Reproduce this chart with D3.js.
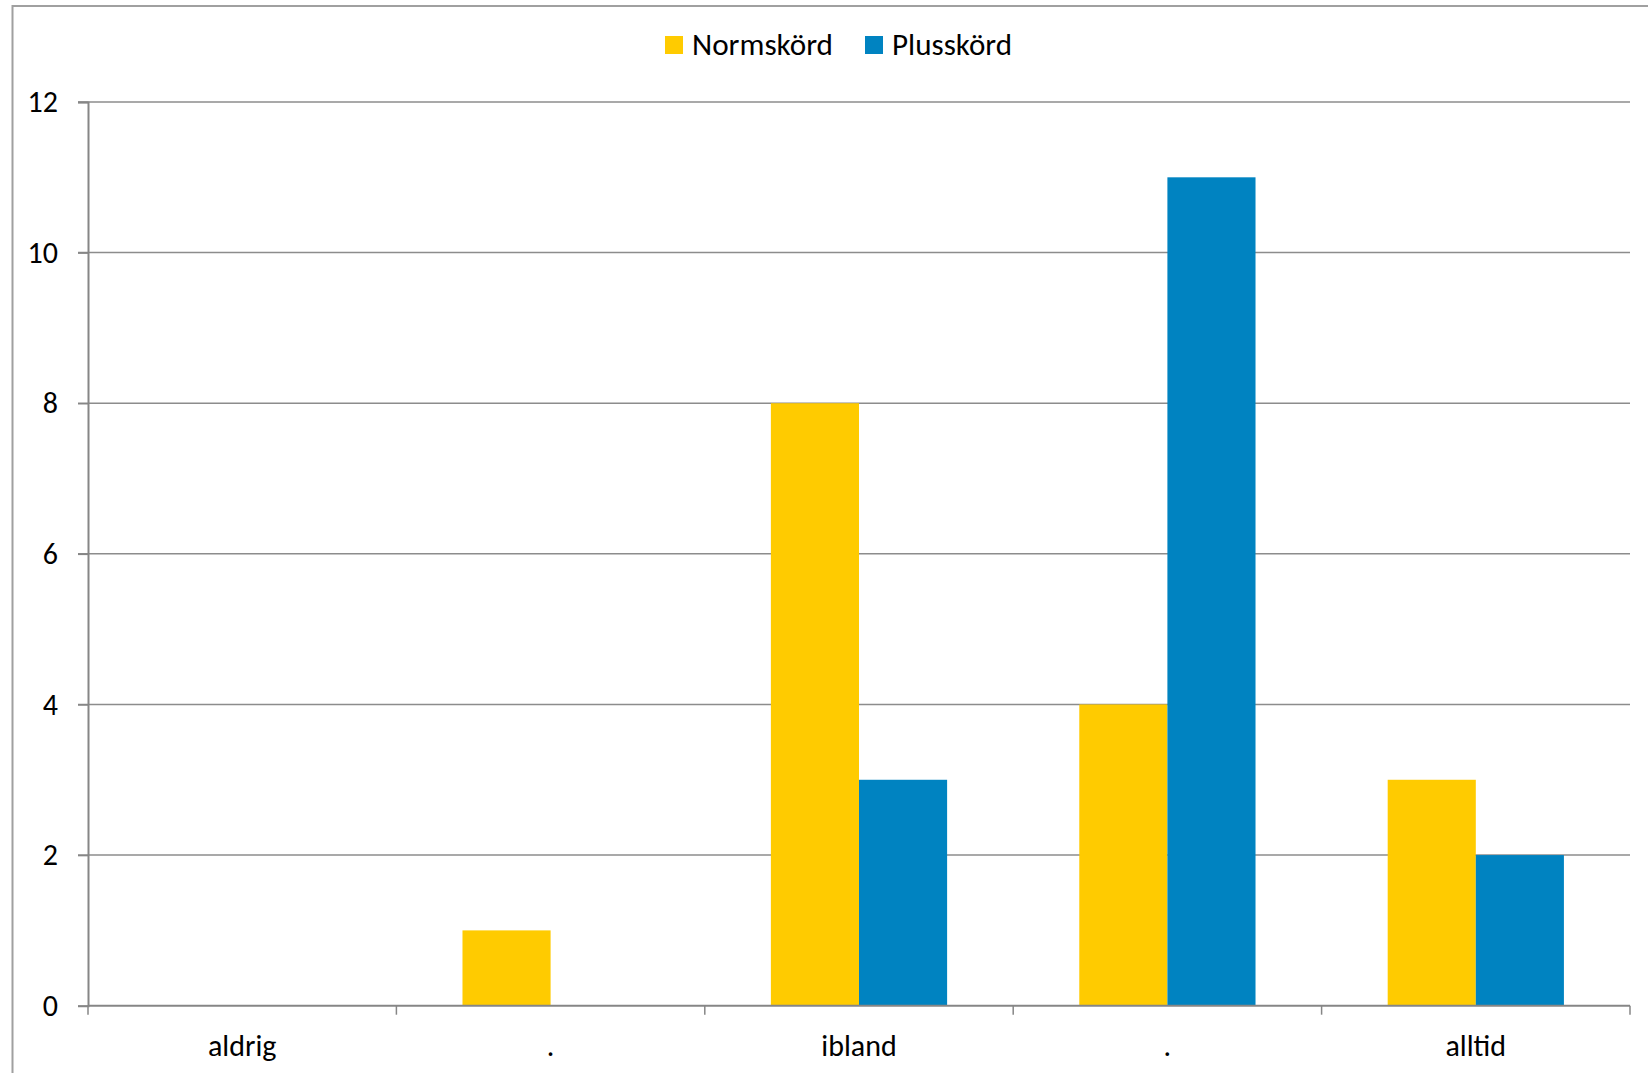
<!DOCTYPE html>
<html>
<head>
<meta charset="utf-8">
<script src="https://cdn.jsdelivr.net/npm/d3@7"></script>
<style>
html,body{margin:0;padding:0;background:#fff;}
svg{display:block;}
text{font-family:Carlito,"Open Sans","Noto Sans",sans-serif;fill:#000;}
</style>
</head>
<body>
<svg id="chart" width="1648" height="1073"></svg>
<script>
const categories = ["aldrig", ".", "ibland", ".", "alltid"];
const seriesNames = ["Normskörd", "Plusskörd"];
const normskord = [0, 1, 8, 4, 3];
const plusskord = [0, 0, 3, 11, 2];
const yTicks = [0, 2, 4, 6, 8, 10, 12];
const colors = ["#FFCB00", "#0083C1"];

(function () {
const svg = d3.select("#chart");
const W = 1648, H = 1073;
const mLeft = 88, mRight = 1630, mTop = 102, mBottom = 1005.7;
const FS = 30;

// outer border
svg.append("rect").attr("x", 12.5).attr("y", 6).attr("width", W).attr("height", H)
  .attr("fill", "none").attr("stroke", "#a0a0a0").attr("stroke-width", 2);

const x = d3.scaleBand().domain(d3.range(categories.length)).range([mLeft, mRight]).paddingInner(0).paddingOuter(0);
const y = d3.scaleLinear().domain([0, 12]).range([mBottom, mTop]);
const bw = x.bandwidth();
const barW = bw / 3.5;
const gap = bw * 0.75 / 3.5;

// gridlines
svg.append("g").selectAll("line").data(yTicks.filter(d => d > 0)).join("line")
  .attr("x1", mLeft - 10).attr("x2", mRight)
  .attr("y1", d => y(d)).attr("y2", d => y(d))
  .attr("stroke", "#8c8c8c").attr("stroke-width", 1.5);

// bars
const data = [normskord, plusskord];
data.forEach((vals, si) => {
  svg.append("g").selectAll("rect").data(vals).join("rect")
    .attr("x", (d, i) => x(i) + gap + si * barW)
    .attr("width", barW)
    .attr("y", d => y(d))
    .attr("height", d => mBottom - y(d))
    .attr("fill", colors[si]);
});

// y axis
const yAxis = d3.axisLeft(y).tickValues(yTicks).tickSize(10).tickPadding(20).tickFormat(d3.format("d"));
const gy = svg.append("g").attr("transform", `translate(${mLeft},0)`).call(yAxis);
gy.select(".domain").attr("stroke", "#868686").attr("stroke-width", 2);
gy.selectAll(".tick line").attr("stroke", "#868686").attr("stroke-width", 1.5);
gy.selectAll(".tick text").attr("font-size", FS).attr("font-family", "Carlito,'Open Sans',sans-serif").attr("fill", "#000");

// x axis
const xTickPos = d3.range(categories.length + 1).map(i => mLeft + i * bw);
svg.append("line").attr("x1", mLeft).attr("x2", mRight).attr("y1", mBottom).attr("y2", mBottom)
  .attr("stroke", "#868686").attr("stroke-width", 2);
svg.append("g").selectAll("line").data(xTickPos).join("line")
  .attr("x1", d => d).attr("x2", d => d).attr("y1", mBottom).attr("y2", mBottom + 9)
  .attr("stroke", "#868686").attr("stroke-width", 1.5);
svg.append("g").selectAll("text").data(categories).join("text")
  .attr("x", (d, i) => x(i) + bw / 2)
  .attr("y", 1056)
  .attr("text-anchor", "middle")
  .attr("font-size", FS)
  .text(d => d);

// legend
const legendItems = [
  {name: seriesNames[0], color: colors[0], sx: 665, tx: 692, tw: 141},
  {name: seriesNames[1], color: colors[1], sx: 865, tx: 892, tw: 120}
];
const lg = svg.append("g");
legendItems.forEach(it => {
  lg.append("rect").attr("x", it.sx).attr("y", 36).attr("width", 18).attr("height", 18).attr("fill", it.color);
  lg.append("text").attr("x", it.tx).attr("y", 54.5).attr("font-size", FS)
    .attr("textLength", it.tw).attr("lengthAdjust", "spacingAndGlyphs").text(it.name);
});
})();
</script>
</body>
</html>
